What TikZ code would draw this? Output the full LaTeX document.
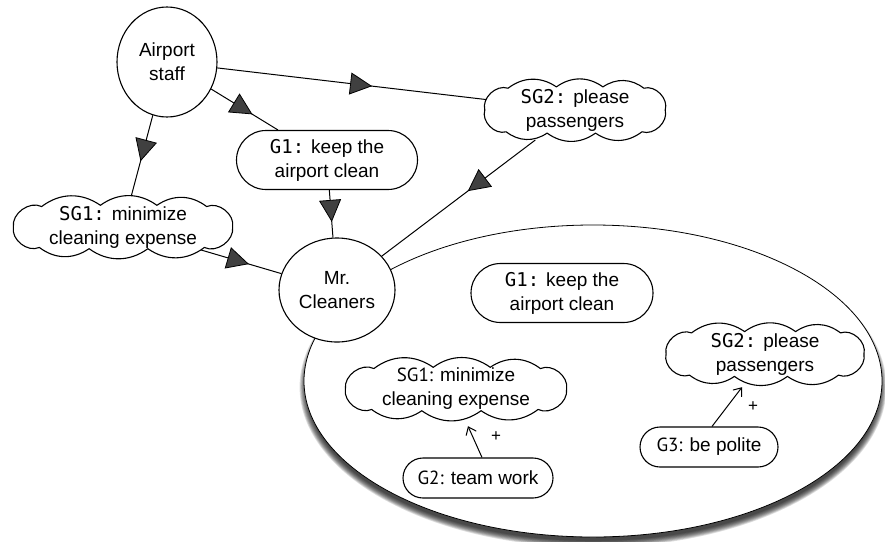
\documentclass[tikz,border=0pt]{standalone}
\usepackage{fontspec}
\setmainfont{Liberation Sans}
\newfontfamily\labelmono{DejaVu Sans Mono}
\newfontfamily\labelsans{PT Sans}
\usetikzlibrary{shapes.geometric,shapes.misc,arrows.meta,decorations.markings}
\definecolor{headgray}{RGB}{64,64,64}
\pgfdeclarelayer{back}
\pgfdeclarelayer{edges}
\pgfsetlayers{back,edges,main}
\tikzset{
  txt/.style={align=center, font=\fontsize{19}{24}\selectfont, inner sep=0pt},
  actor/.style={txt, ellipse, draw, line width=1.1pt, fill=white},
  goal/.style={txt, rounded rectangle, draw, line width=1.1pt, fill=white},
  softgoal/.style={txt, ellipse},
  cloudline/.style={draw, line width=1.1pt, fill=white, line join=round},
  dep/.style={line width=1pt, postaction={decorate}, decoration={markings, mark=at position #1 with {\arrow{Triangle[length=22pt,width=22pt,fill=headgray,color=black,line width=0.8pt]}}}},
  contrib/.style={line width=1pt, -{Straight Barb[length=7pt,width=11pt]}},
  boundary/.style={ellipse, draw, line width=0.8pt, fill=white},
}
% cloud outline: #1 centre, #2 half width, #3 half height (y grows downwards)
\newcommand\puffcloud[3]{%
  \path[cloudline] ([shift={(0.97*#2,0)}]#1)
    to[bend left=62] ([shift={(0.72*#2,0.66*#3)}]#1)
    to[bend left=36] ([shift={(0.22*#2,0.7*#3)}]#1)
    to[bend left=36] ([shift={(-0.3*#2,0.7*#3)}]#1)
    to[bend left=36] ([shift={(-0.74*#2,0.66*#3)}]#1)
    to[bend left=62] ([shift={(-0.97*#2,0)}]#1)
    to[bend left=62] ([shift={(-0.72*#2,-0.66*#3)}]#1)
    to[bend left=36] ([shift={(-0.2*#2,-0.7*#3)}]#1)
    to[bend left=36] ([shift={(0.3*#2,-0.7*#3)}]#1)
    to[bend left=36] ([shift={(0.74*#2,-0.66*#3)}]#1)
    to[bend left=62] ([shift={(0.97*#2,0)}]#1) -- cycle;}
\begin{document}
\begin{tikzpicture}[x=1pt,y=-1pt]
\useasboundingbox (0,0) rectangle (885,541);

% boundary of Mr. Cleaners, with a soft shadow underneath
\coordinate (ctxc) at (593,381);
\begin{pgfonlayer}{back}
  \foreach \k in {0,...,8}
    \fill[black, opacity=0.13] ([yshift=-6pt]ctxc) ellipse [x radius={287pt+\k*0.8pt}, y radius={154pt+\k*0.8pt}];
  \node[boundary, minimum width=578pt, minimum height=312pt] (ctx) at (ctxc) {};
\end{pgfonlayer}

% actors
\node[actor, minimum width=100pt, minimum height=110pt] (staff) at (167,62) {Airport\\staff};
\node[actor, minimum width=116pt, minimum height=104pt] (mr) at (337,290) {Mr.\\Cleaners};

% outer goals
\node[goal, minimum width=181pt, minimum height=59pt] (g1) at (327,160) {{\labelmono G1:} keep the\\airport clean};
\coordinate (sg1c) at (123,227);
\puffcloud{sg1c}{113}{31}
\node[softgoal, minimum width=226pt, minimum height=62pt] (sg1) at (sg1c) {{\labelmono SG1:} minimize\\cleaning expense};
\coordinate (sg2c) at (575,110);
\puffcloud{sg2c}{93}{33}
\node[softgoal, minimum width=186pt, minimum height=66pt] (sg2) at (sg2c) {{\labelmono SG2:} please\\passengers};

% inner goals
\node[goal, minimum width=182pt, minimum height=59pt] (g1in) at (562,293) {{\labelmono G1:} keep the\\airport clean};
\coordinate (sg1inc) at (456,389);
\puffcloud{sg1inc}{114}{31}
\node[softgoal, minimum width=228pt, minimum height=62pt] (sg1in) at (sg1inc) {{\labelsans SG1:} minimize\\cleaning expense};
\node[goal, minimum width=150pt, minimum height=40pt] (g2) at (478,478) {{\labelsans G2:} team work};
\coordinate (sg2inc) at (765,354);
\puffcloud{sg2inc}{102}{32}
\node[softgoal, minimum width=204pt, minimum height=64pt] (sg2in) at (sg2inc) {{\labelmono SG2:} please\\passengers};
\node[goal, minimum width=138pt, minimum height=40pt] (g3) at (709,447) {{\labelsans G3:} be polite};

% dependencies
\begin{pgfonlayer}{edges}
  \draw[dep=0.57] (staff) -- (sg1);
  \draw[dep=0.62] (staff) -- (g1);
  \draw[dep=0.575] (staff) -- (sg2);
  \draw[dep=0.67] (g1) -- (mr);
  \draw[dep=0.6] (sg1) -- (mr);
  \draw[dep=0.44] (sg2) -- (mr);
\end{pgfonlayer}

% contributions
\draw[contrib] ([xshift=4pt]g2.north) -- ([xshift=12pt,yshift=-6pt]sg1in.south);
\draw[contrib] ([xshift=3pt]g3.north) -- ([xshift=-23pt,yshift=-1pt]sg2in.south);
\node[txt, font=\fontsize{17}{20}\selectfont] (plus1) at (496,437) {+};
\node[txt, font=\fontsize{17}{20}\selectfont] (plus2) at (753,407) {+};
\end{tikzpicture}
\end{document}
